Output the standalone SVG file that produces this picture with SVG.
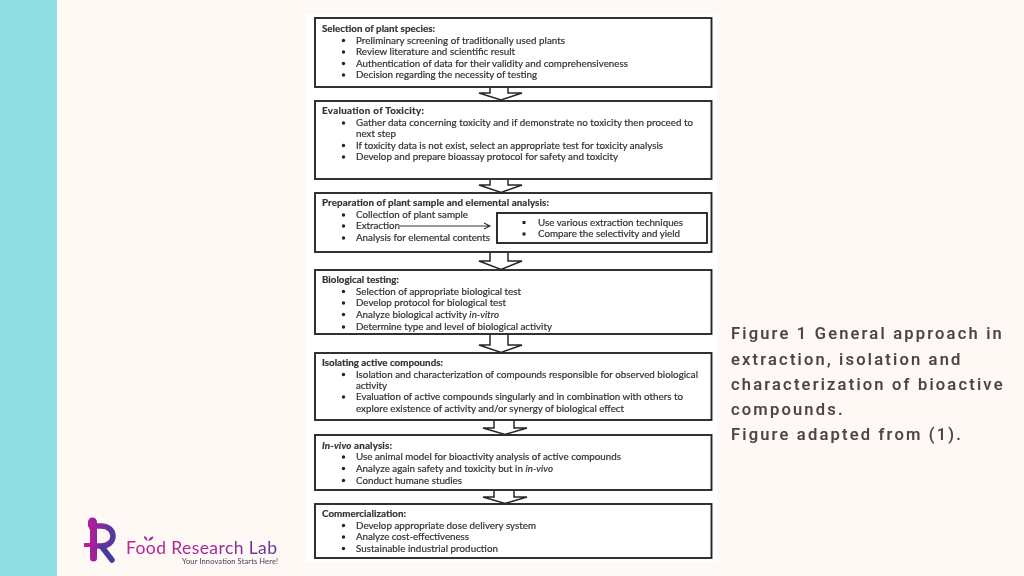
<svg xmlns="http://www.w3.org/2000/svg" width="1024" height="576" viewBox="0 0 1024 576">
<defs>
<style>
.box{fill:#fff;stroke:#262626;stroke-width:1.9}
.arrow{fill:#fff;stroke:#262626;stroke-width:1.5;stroke-linejoin:miter}
.t{font-family:Lato,"Liberation Sans",sans-serif;font-size:9.8px;fill:#333;stroke:#333;stroke-width:.2}
.h{font-weight:700}
.b{fill:#222}
.cap{font-family:Roboto,"Liberation Sans",sans-serif;font-size:16.5px;font-weight:500;letter-spacing:2.2px;fill:#4f4246;stroke:#4f4246;stroke-width:.15}
</style>
<linearGradient id="lg" gradientUnits="userSpaceOnUse" x1="84" y1="0" x2="116" y2="0"><stop offset="0" stop-color="#c4189a"/><stop offset="1" stop-color="#4b3a9e"/></linearGradient>
<linearGradient id="tg" gradientUnits="userSpaceOnUse" x1="126" y1="0" x2="278" y2="0"><stop offset="0" stop-color="#c9208f"/><stop offset=".6" stop-color="#a02aa0"/><stop offset="1" stop-color="#5a3a9e"/></linearGradient>
<filter id="soft" x="-2%" y="-2%" width="104%" height="104%"><feGaussianBlur stdDeviation="0.45"/></filter>
<circle id="dot" class="b" r="1.700"/>
<rect id="sq" class="b" x="-1.500" y="-1.500" width="3" height="3"/>
</defs>
<rect width="1024" height="576" fill="#fff9f5"/>
<rect width="57" height="576" fill="#8fdfe4"/>
<rect x="306" y="14" width="411" height="548" fill="#fff"/>
<g filter="url(#soft)">
<g id="node-selection">
<rect class="box" x="315" y="18" width="396.500" height="69"/>
<text class="t h" x="322" y="32" textLength="113">Selection of plant species:</text>
<use href="#dot" x="343.500" y="40.500"/><text class="t" x="356" y="43.500" textLength="209">Preliminary screening of traditionally used plants</text>
<use href="#dot" x="343.500" y="52"/><text class="t" x="356" y="55" textLength="159">Review literature and scientific result</text>
<use href="#dot" x="343.500" y="63.500"/><text class="t" x="356" y="66.500" textLength="272">Authentication of data for their validity and comprehensiveness</text>
<use href="#dot" x="343.500" y="75"/><text class="t" x="356" y="78" textLength="181">Decision regarding the necessity of testing</text>
</g>
<g id="node-toxicity">
<rect class="box" x="315" y="101" width="396.500" height="78"/>
<text class="t h" x="322" y="114" textLength="102">Evaluation of Toxicity:</text>
<use href="#dot" x="343.500" y="123"/><text class="t" x="356" y="126" textLength="337">Gather data concerning toxicity and if demonstrate no toxicity then proceed to</text>
<text class="t" x="356" y="137" textLength="40">next step</text>
<use href="#dot" x="343.500" y="145.500"/><text class="t" x="356" y="148.500" textLength="307">If toxicity data is not exist, select an appropriate test for toxicity analysis</text>
<use href="#dot" x="343.500" y="157"/><text class="t" x="356" y="160" textLength="262">Develop and prepare bioassay protocol for safety and toxicity</text>
</g>
<g id="node-preparation">
<rect class="box" x="315" y="193" width="396.500" height="59"/>
<text class="t h" x="322" y="206" textLength="227">Preparation of plant sample and elemental analysis:</text>
<use href="#dot" x="343.500" y="215"/><text class="t" x="356" y="218" textLength="112">Collection of plant sample</text>
<use href="#dot" x="343.500" y="226"/><text class="t" x="356" y="229" textLength="44">Extraction</text>
<use href="#dot" x="343.500" y="238"/><text class="t" x="356" y="241" textLength="134">Analysis for elemental contents</text>
</g>
<g id="node-extraction-detail">
<rect class="box" x="497" y="213" width="210" height="30"/>
<use href="#sq" x="524" y="222.500"/><text class="t" x="538" y="225.500" textLength="145">Use various extraction techniques</text>
<use href="#sq" x="524" y="234"/><text class="t" x="538" y="237" textLength="142">Compare the selectivity and yield</text>
</g>
<g id="node-biological">
<rect class="box" x="315" y="270" width="396.500" height="64"/>
<text class="t h" x="322" y="282.500" textLength="77">Biological testing:</text>
<use href="#dot" x="343.500" y="291.500"/><text class="t" x="356" y="294.500" textLength="165">Selection of appropriate biological test</text>
<use href="#dot" x="343.500" y="303"/><text class="t" x="356" y="306" textLength="150">Develop protocol for biological test</text>
<use href="#dot" x="343.500" y="314.500"/><text class="t" x="356" y="317.500" textLength="143">Analyze biological activity <tspan font-style="italic">in-vitro</tspan></text>
<use href="#dot" x="343.500" y="327"/><text class="t" x="356" y="330" textLength="196">Determine type and level of biological activity</text>
</g>
<g id="node-isolating">
<rect class="box" x="315" y="353" width="396.500" height="67"/>
<text class="t h" x="322" y="365.500" textLength="121">Isolating active compounds:</text>
<use href="#dot" x="343.500" y="374.500"/><text class="t" x="356" y="377.500" textLength="342">Isolation and characterization of compounds responsible for observed biological</text>
<text class="t" x="356" y="388.500" textLength="31">activity</text>
<use href="#dot" x="343.500" y="397"/><text class="t" x="356" y="400" textLength="327">Evaluation of active compounds singularly and in combination with others to</text>
<text class="t" x="356" y="411.500" textLength="268">explore existence of activity and/or synergy of biological effect</text>
</g>
<g id="node-invivo">
<rect class="box" x="315" y="435" width="396.500" height="55"/>
<text class="t h" x="322" y="448.500" textLength="70"><tspan font-style="italic">In-vivo</tspan> analysis:</text>
<use href="#dot" x="343.500" y="457"/><text class="t" x="356" y="460" textLength="265">Use animal model for bioactivity analysis of active compounds</text>
<use href="#dot" x="343.500" y="468.500"/><text class="t" x="356" y="471.500" textLength="197">Analyze again safety and toxicity but in <tspan font-style="italic">in-vivo</tspan></text>
<use href="#dot" x="343.500" y="480.500"/><text class="t" x="356" y="483.500" textLength="106">Conduct humane studies</text>
</g>
<g id="node-commercialization">
<rect class="box" x="315" y="504" width="396.500" height="54"/>
<text class="t h" x="322" y="516.500" textLength="84">Commercialization:</text>
<use href="#dot" x="343.500" y="525.500"/><text class="t" x="356" y="528.500" textLength="180">Develop appropriate dose delivery system</text>
<use href="#dot" x="343.500" y="537"/><text class="t" x="356" y="540" textLength="113">Analyze cost-effectiveness</text>
<use href="#dot" x="343.500" y="548.500"/><text class="t" x="356" y="551.500" textLength="142">Sustainable industrial production</text>
</g>
<g id="connectors">
<path class="arrow" d="M490 88V93H479L501 100L522 93H508V88"/>
<path class="arrow" d="M490 180V185H479L501 192.500L522 185H508V180"/>
<path class="arrow" d="M490 253V261H479L501 269.500L522 261H508V253"/>
<path class="arrow" d="M490 335V345H479L501 352.500L522 345H508V335"/>
<path class="arrow" d="M494 421V428H483L505 434.500L527 428H514V421"/>
<path class="arrow" d="M494 491V497H483L505 503.500L527 497H514V491"/>
<path d="M400 226H489M484 223L490 226L484 229" fill="none" stroke="#333" stroke-width="1.100"/>
</g>
</g>
<g id="caption">
<text class="cap" x="731" y="339">Figure 1 General approach in</text>
<text class="cap" x="731" y="364.500">extraction, isolation and</text>
<text class="cap" x="731" y="390">characterization of bioactive</text>
<text class="cap" x="731" y="415">compounds.</text>
<text class="cap" x="731" y="440">Figure adapted from (1).</text>
</g>
<g id="logo">
<path d="M88 526V522A4.500 4.500 0 0 1 97 522V558A3.500 3.500 0 0 1 90 558V547H84V543H90V530Z" fill="url(#lg)"/>
<path d="M96 526H101C117 526 117 546 101 546H96" fill="none" stroke="url(#lg)" stroke-width="5.500"/>
<path d="M102 547L112 560" fill="none" stroke="#4b3a9e" stroke-width="5.500" stroke-linecap="round"/>
<text x="126" y="553.500" font-family="Lato,'Liberation Sans',sans-serif" font-size="17.500" font-weight="400" fill="url(#tg)" textLength="151">Food Research Lab</text>
<path d="M147.500 541C145 540 144 538 144 536C146.500 536.500 147.500 538.500 147.500 541ZM148.500 541C149 538 151 536.500 153.500 536.500C153 539 151 540.500 148.500 541Z" fill="#8a2a9c"/>
<text x="182" y="564" font-family="Lato,'Liberation Sans',sans-serif" font-size="7.500px" fill="#4a3550" textLength="96">Your Innovation Starts Here!</text>
</g>
</svg>
